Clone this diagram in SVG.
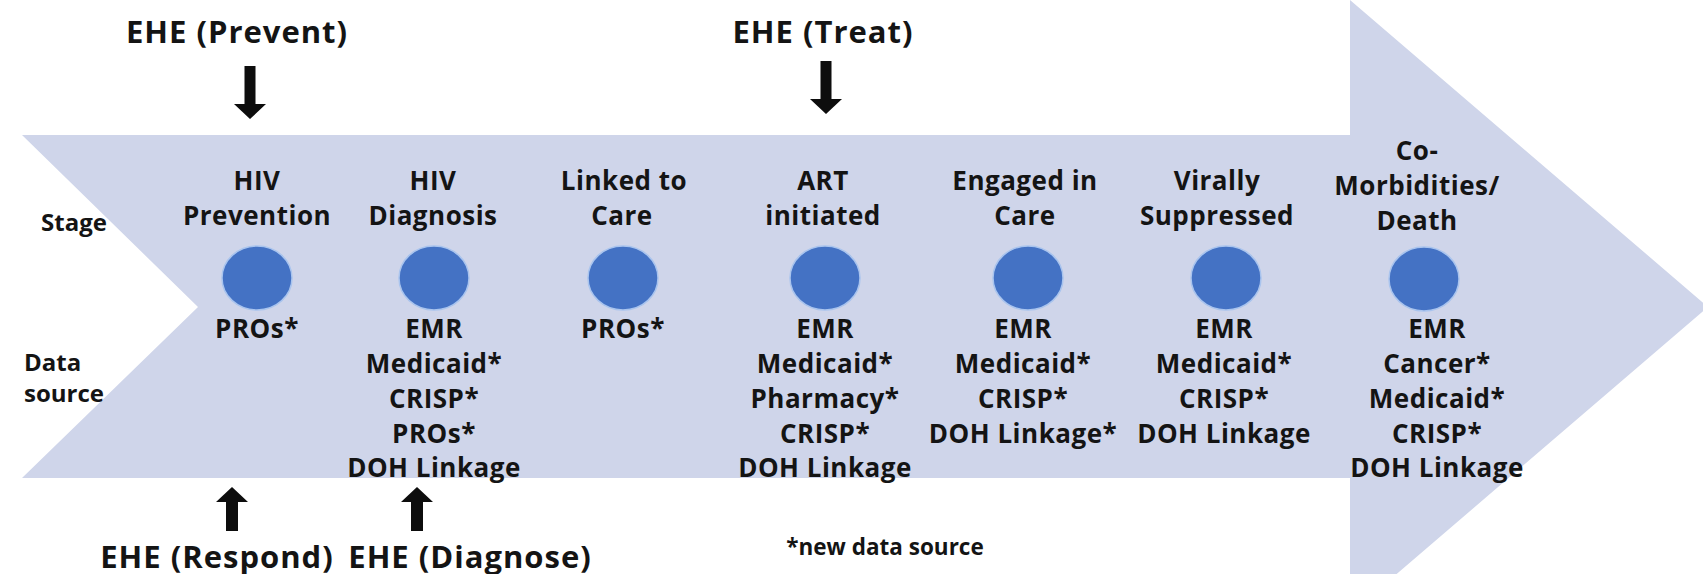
<svg xmlns="http://www.w3.org/2000/svg" width="1703" height="574" viewBox="0 0 1703 574">
  <style>
    .lbl { font-family: "Open Sans", "Liberation Sans", sans-serif; font-weight: 700; fill: #141414; text-anchor: middle; }
    .ehe { font-size: 31px; letter-spacing: 1px; }
    .stage { font-size: 26px; letter-spacing: 0.5px; }
    .data { font-size: 26px; letter-spacing: 0.5px; }
    .side { font-size: 24px; text-anchor: start; }
    .note { font-size: 22.5px; }
    .dot { fill: #4472C4; stroke: #A9C4EE; stroke-width: 1.5; }
    .blk { fill: #0d0d0d; }
  </style>
  <defs>
    <path id="downArrow" d="M -5.5 0 L 5.5 0 L 5.5 38 L 16 38 L 0 53 L -16 38 L -5.5 38 Z"/>
    <path id="upArrow" d="M 0 0 L 16 15 L 6 15 L 6 44 L -6 44 L -6 15 L -16 15 Z"/>
  </defs>
  <rect width="1703" height="574" fill="#ffffff"/>
  <g id="flow-arrow">
    <polygon points="22,135 1350,135 1350,0 1708,307 1350,614 1350,478 22,478 198,307" fill="#CFD5EA"/>
  </g>
  <g id="row-labels">
    <text class="lbl side" x="41" y="231">Stage</text>
    <text class="lbl side" x="24" y="371">Data</text>
    <text class="lbl side" x="24" y="402">source</text>
  </g>
  <g id="connectors">
    <use href="#downArrow" class="blk" x="250" y="66"/>
    <use href="#downArrow" class="blk" x="826" y="61"/>
    <use href="#upArrow" class="blk" x="232" y="487"/>
    <use href="#upArrow" class="blk" x="417" y="487"/>
  </g>
  <g id="ehe-prevent"><text class="lbl ehe" x="237" y="43">EHE (Prevent)</text></g>
  <g id="ehe-treat"><text class="lbl ehe" x="823" y="43">EHE (Treat)</text></g>
  <g id="ehe-respond"><text class="lbl ehe" x="217" y="568">EHE (Respond)</text></g>
  <g id="ehe-diagnose"><text class="lbl ehe" x="470" y="568">EHE (Diagnose)</text></g>
  <g id="note"><text class="lbl note" x="885" y="555">*new data source</text></g>

  <g id="stage-prevention">
    <text class="lbl stage" x="257" y="190">HIV</text>
    <text class="lbl stage" x="257" y="225">Prevention</text>
    <ellipse class="dot" cx="257" cy="278" rx="35" ry="32"/>
    <text class="lbl data" x="257" y="338">PROs*</text>
  </g>
  <g id="stage-diagnosis">
    <text class="lbl stage" x="433" y="190">HIV</text>
    <text class="lbl stage" x="433" y="225">Diagnosis</text>
    <ellipse class="dot" cx="434" cy="278" rx="35" ry="32"/>
    <text class="lbl data" x="434" y="338">EMR</text>
    <text class="lbl data" x="434" y="373">Medicaid*</text>
    <text class="lbl data" x="434" y="408">CRISP*</text>
    <text class="lbl data" x="434" y="443">PROs*</text>
    <text class="lbl data" x="434" y="477">DOH Linkage</text>
  </g>
  <g id="stage-linked">
    <text class="lbl stage" x="624" y="190">Linked to</text>
    <text class="lbl stage" x="622" y="225">Care</text>
    <ellipse class="dot" cx="623" cy="278" rx="35" ry="32"/>
    <text class="lbl data" x="623" y="338">PROs*</text>
  </g>
  <g id="stage-art">
    <text class="lbl stage" x="823" y="190">ART</text>
    <text class="lbl stage" x="823" y="225">initiated</text>
    <ellipse class="dot" cx="825" cy="278" rx="35" ry="32"/>
    <text class="lbl data" x="825" y="338">EMR</text>
    <text class="lbl data" x="825" y="373">Medicaid*</text>
    <text class="lbl data" x="825" y="408">Pharmacy*</text>
    <text class="lbl data" x="825" y="443">CRISP*</text>
    <text class="lbl data" x="825" y="477">DOH Linkage</text>
  </g>
  <g id="stage-engaged">
    <text class="lbl stage" x="1025" y="190">Engaged in</text>
    <text class="lbl stage" x="1025" y="225">Care</text>
    <ellipse class="dot" cx="1028" cy="278" rx="35" ry="32"/>
    <text class="lbl data" x="1023" y="338">EMR</text>
    <text class="lbl data" x="1023" y="373">Medicaid*</text>
    <text class="lbl data" x="1023" y="408">CRISP*</text>
    <text class="lbl data" x="1023" y="443">DOH Linkage*</text>
  </g>
  <g id="stage-suppressed">
    <text class="lbl stage" x="1217" y="190">Virally</text>
    <text class="lbl stage" x="1217" y="225">Suppressed</text>
    <ellipse class="dot" cx="1226" cy="278" rx="35" ry="32"/>
    <text class="lbl data" x="1224" y="338">EMR</text>
    <text class="lbl data" x="1224" y="373">Medicaid*</text>
    <text class="lbl data" x="1224" y="408">CRISP*</text>
    <text class="lbl data" x="1224" y="443">DOH Linkage</text>
  </g>
  <g id="stage-comorbidities">
    <text class="lbl stage" x="1417" y="160">Co-</text>
    <text class="lbl stage" x="1417" y="195">Morbidities/</text>
    <text class="lbl stage" x="1417" y="230">Death</text>
    <ellipse class="dot" cx="1424" cy="279" rx="35" ry="32"/>
    <text class="lbl data" x="1437" y="338">EMR</text>
    <text class="lbl data" x="1437" y="373">Cancer*</text>
    <text class="lbl data" x="1437" y="408">Medicaid*</text>
    <text class="lbl data" x="1437" y="443">CRISP*</text>
    <text class="lbl data" x="1437" y="477">DOH Linkage</text>
  </g>
</svg>
